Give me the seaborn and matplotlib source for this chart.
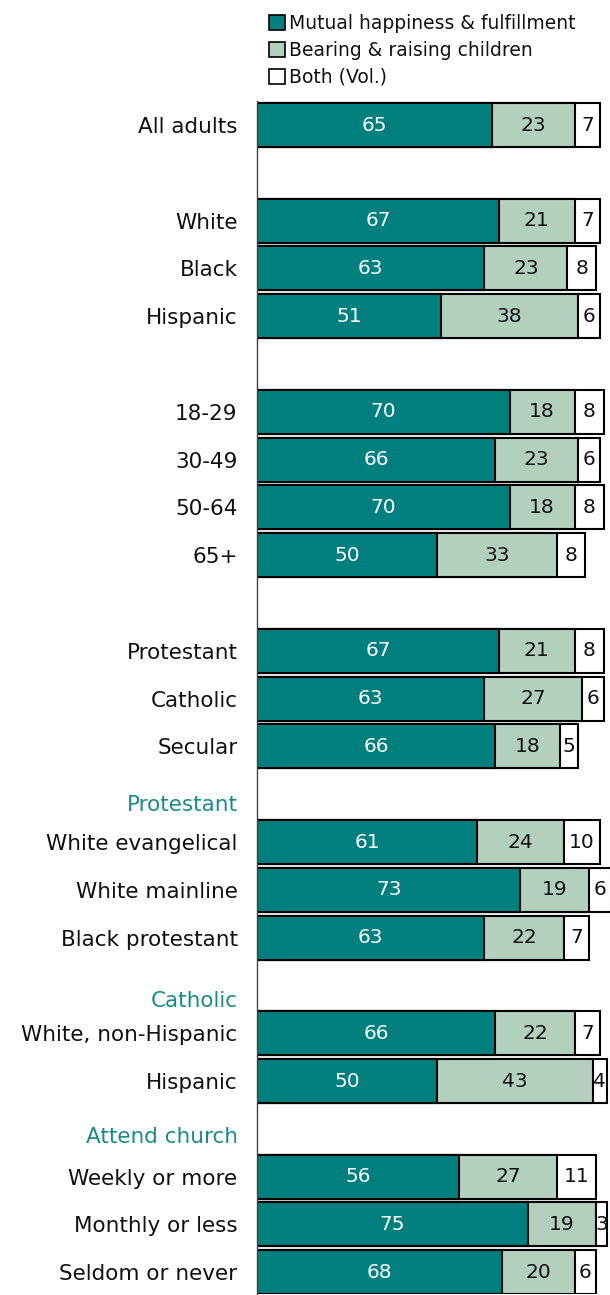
import numpy as np
import pandas as pd
import matplotlib
matplotlib.use("Agg")
import matplotlib.pyplot as plt
from matplotlib.patches import Patch
import seaborn as sns

# ---- data ----
row_labels = ["All adults", "White", "Black", "Hispanic",
              "18-29", "30-49", "50-64", "65+",
              "Protestant", "Catholic", "Secular",
              "White evangelical", "White mainline", "Black protestant",
              "White, non-Hispanic", "Hispanic",
              "Weekly or more", "Monthly or less", "Seldom or never"]
row_pos = [0, 2, 3, 4, 6, 7, 8, 9, 11, 12, 13, 15, 16, 17, 19, 20, 22, 23, 24]
mutual = [65, 67, 63, 51, 70, 66, 70, 50, 67, 63, 66, 61, 73, 63, 66, 50, 56, 75, 68]
children = [23, 21, 23, 38, 18, 23, 18, 33, 21, 27, 18, 24, 19, 22, 22, 43, 27, 19, 20]
both = [7, 7, 8, 6, 8, 6, 8, 8, 8, 6, 5, 10, 6, 7, 7, 4, 11, 3, 6]
section_headers = ["Protestant", "Catholic", "Attend church"]
header_pos = [14.23, 18.33, 21.17]
series_names = ["Mutual happiness & fulfillment", "Bearing & raising children", "Both (Vol.)"]

TEAL = "#007f7f"
GREEN = "#b3d0bf"
HEAD = "#1a8a8a"

sns.set_style("white")
plt.rcParams["font.family"] = ["DejaVu Sans"]
plt.rcParams["text.color"] = "#111111"
plt.rcParams["ytick.color"] = "#111111"

df = pd.DataFrame({"label": row_labels, "pos": row_pos,
                   "mutual": mutual, "children": children, "both": both})
df["c2"] = df["mutual"] + df["children"]
df["c3"] = df["c2"] + df["both"]

fig = plt.figure(figsize=(6.10, 12.95), dpi=100)
ax = fig.add_axes([257 / 610, 0.001, 1 - 257 / 610, 0.9219 - 0.001])

common = dict(orient="y", native_scale=True, width=0.92, edgecolor="black",
              linewidth=1.5, ax=ax)
sns.barplot(data=df, x="c3", y="pos", color="white", saturation=1, **common)
sns.barplot(data=df, x="c2", y="pos", color=GREEN, saturation=1, **common)
sns.barplot(data=df, x="mutual", y="pos", color=TEAL, saturation=1, **common)

VFS = 14.5
for _, r in df.iterrows():
    ax.text(r["mutual"] / 2, r["pos"], str(r["mutual"]), ha="center", va="center",
            color="white", fontsize=VFS)
    ax.text(r["mutual"] + r["children"] / 2, r["pos"], str(r["children"]),
            ha="center", va="center", color="#111111", fontsize=VFS)
    ax.text(r["c2"] + r["both"] / 2, r["pos"], str(r["both"]),
            ha="center", va="center", color="#111111", fontsize=VFS)

ax.set_xlim(0, 97.8)
ax.set_ylim(24.45, -0.5)
ax.set_yticks(row_pos)
ax.set_yticklabels(row_labels, fontsize=15.5)
ax.tick_params(axis="y", length=0, pad=14)
ax.set_xticks([])
ax.set_xlabel("")
ax.set_ylabel("")
for s in ["top", "right", "bottom"]:
    ax.spines[s].set_visible(False)
ax.spines["left"].set_color("#444444")
ax.spines["left"].set_linewidth(1.0)

for h, p in zip(section_headers, header_pos):
    ax.text(-19 / 353 * 97.8, p, h, ha="right", va="center",
            color=HEAD, fontsize=15.5)

handles = [Patch(facecolor=TEAL, edgecolor="black", linewidth=1.2),
           Patch(facecolor=GREEN, edgecolor="black", linewidth=1.2),
           Patch(facecolor="white", edgecolor="black", linewidth=1.2)]
fig.legend(handles, series_names, loc="upper left",
           bbox_to_anchor=(269 / 610, 1 - 14 / 1295), frameon=False,
           fontsize=13.5, handlelength=0.85, handleheight=0.85, handletextpad=0.2,
           labelspacing=0.42, borderaxespad=0, borderpad=0)

fig.savefig("out.png", dpi=100)
